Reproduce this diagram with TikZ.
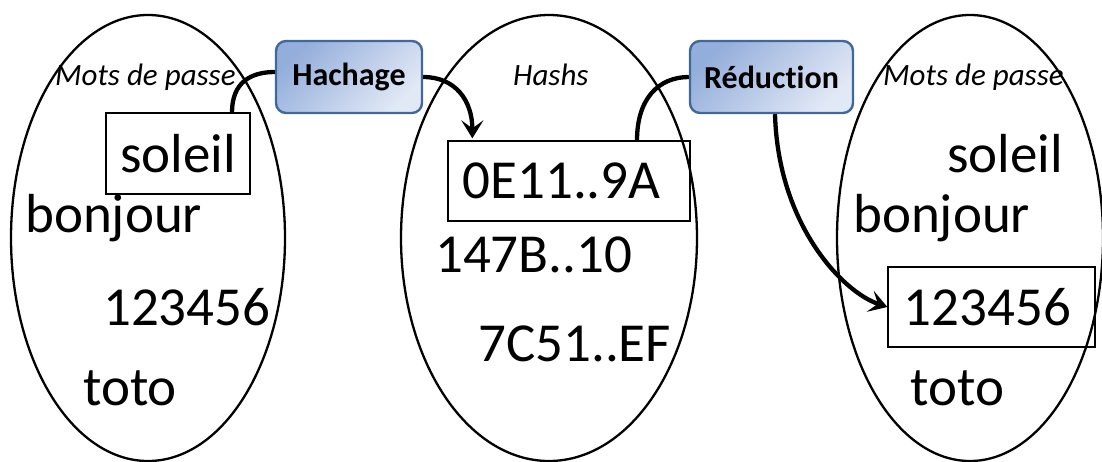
\documentclass[tikz,border=0pt]{standalone}
\usepackage{fontspec}
\setmainfont{Carlito}[Ligatures=NoCommon]
\usetikzlibrary{shapes.geometric,arrows.meta,calc}
\definecolor{boxline}{HTML}{41689B}
\definecolor{boxtop}{HTML}{94AEDB}
\definecolor{boxbot}{HTML}{E2E9F6}
\begin{document}
\begin{tikzpicture}[x=1pt,y=-1pt,
  setshape/.style={draw, line width=2.3pt, ellipse, inner sep=0pt},
  item/.style={anchor=base west, inner sep=0pt, font=\fontsize{55}{60}\selectfont},
  setlabel/.style={anchor=base west, inner sep=0pt, font=\fontsize{31}{36}\selectfont\itshape},
  pick/.style={draw, line width=1.3pt, inner sep=0pt, font=\fontsize{55}{60}\selectfont},
  func/.style={draw=boxline, line width=2.4pt, rounded corners=10pt,
    top color=boxtop, bottom color=boxbot, shading angle=45,
    font=\fontsize{32}{36}\selectfont\bfseries, inner sep=0pt},
  link/.style={line width=4.3pt},
  arrowend/.style={-{Stealth[length=18pt,width=22pt,inset=8pt]}}]
\useasboundingbox (0,0) rectangle (1102,461);

% the three sets
\node[setshape, minimum width=274pt, minimum height=446pt] (setA) at (148,238) {};
\node[setshape, minimum width=296pt, minimum height=446pt] (setB) at (549,238) {};
\node[setshape, minimum width=266pt, minimum height=446pt] (setC) at (970,238) {};

% passwords
\node[setlabel] (capA) at (55,85) {Mots de passe};
\node[pick, minimum width=144pt, minimum height=81pt] (pwA1) at (178,153.5) {soleil};
\node[item] (pwA2) at (25,232) {bonjour};
\node[item] (pwA3) at (103,325) {123456};
\node[item] (pwA4) at (83,405) {toto};

% hashes
\node[setlabel] (capB) at (513,85) {Hashs};
\node[pick, minimum width=242pt, minimum height=80pt] (hsB1) at (569,181) {0E11..9A\kern15pt};
\node[item] (hsB2) at (435,272) {147B..10};
\node[item] (hsB3) at (478,361) {7C51..EF};

% passwords after reduction
\node[setlabel] (capC) at (883,85) {Mots de passe};
\node[item] (pwC1) at (947,172) {soleil};
\node[item] (pwC2) at (853,232) {bonjour};
\node[pick, minimum width=207pt, minimum height=80pt] (pwC3) at (991.5,307) {123456\kern8pt};
\node[item] (pwC4) at (910,405) {toto};

% functions
\node[func, minimum width=146pt, minimum height=72pt] (hach) at (349,77) {Hachage};
\node[func, minimum width=163pt, minimum height=72pt] (red) at (771.5,77) {Réduction};

% connectors
\draw[link] ($(pwA1.north)+(54,0)$) .. controls +(0,-30) and +(-24,0) .. ($(hach.west)+(0,-5)$);
\draw[link,arrowend] (hach.east) .. controls +(32,0) and +(0,-38) .. ($(hsB1.north west)+(25,-2)$);
\draw[link] ($(hsB1.north)+(68,0)$) .. controls +(0,-42) and +(-30,0) .. (red.west);
\draw[link,arrowend] ($(red.south)+(3.5,0)$) .. controls +(3,110) and +(-45,-15) .. (pwC3.west);
\end{tikzpicture}
\end{document}
